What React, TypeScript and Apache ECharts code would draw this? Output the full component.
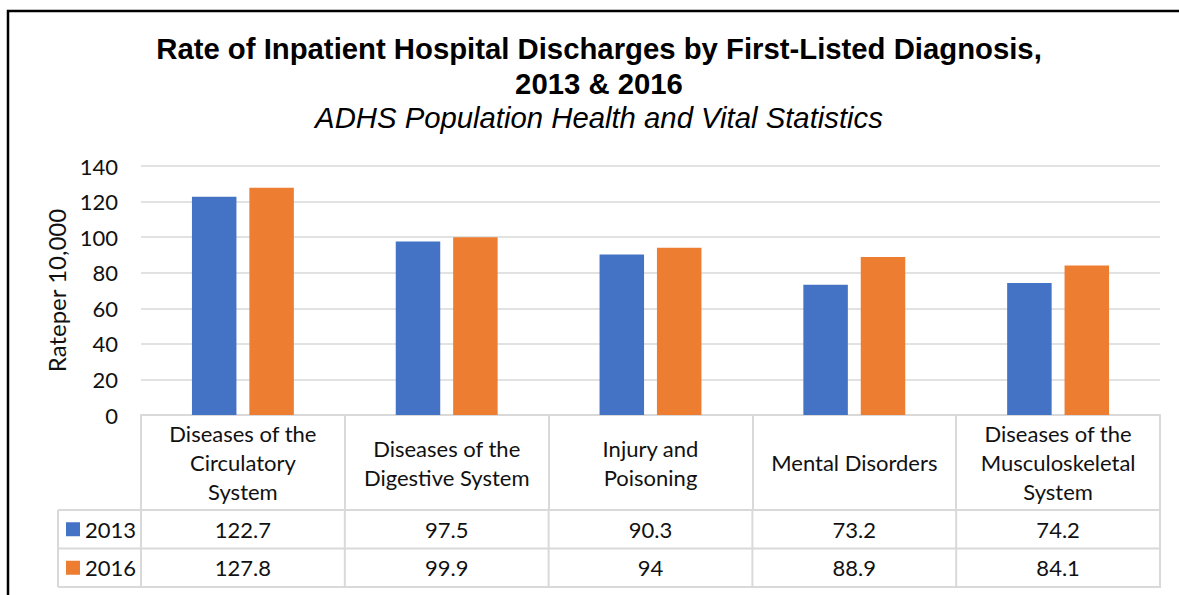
import React, { useEffect, useRef } from "react";
import * as echarts from "echarts";

const categories = [
  "Diseases of the\nCirculatory\nSystem",
  "Diseases of the\nDigestive System",
  "Injury and\nPoisoning",
  "Mental Disorders",
  "Diseases of the\nMusculoskeletal\nSystem",
];
const seriesNames = ["2013", "2016"];
const values2013 = [122.7, 97.5, 90.3, 73.2, 74.2];
const values2016 = [127.8, 99.9, 94, 88.9, 84.1];
const yMin = 0;
const yMax = 140;
const yStep = 20;
const titleLines = ["Rate of Inpatient Hospital Discharges by First-Listed Diagnosis,", "2013 & 2016"];
const subtitle = "ADHS Population Health and Vital Statistics";
const yAxisTitle = "Rateper 10,000";

const COLORS = ["#4472C4", "#ED7D31"];
const LINE = "#d9d9d9";
const BODY_FONT = "Lato, 'Noto Sans', sans-serif";
const TITLE_FONT = "'Liberation Sans', Arial, sans-serif";

const W = 1179;
const H = 595;
const GRID = { left: 141, right: 19, top: 166, bottom: 180 };
const AXIS_Y = H - GRID.bottom;
const HEADER_BOTTOM = 510;
const ROW1_BOTTOM = 548.5;
const ROW2_BOTTOM = 587;
const LEGEND_LEFT = 58;

export default function App() {
  const ref = useRef<HTMLDivElement>(null);

  useEffect(() => {
    if (!ref.current) return;
    const chart = echarts.init(ref.current, undefined, { renderer: "svg" });
    const seriesData = [values2013, values2016];

    chart.setOption({
      animation: false,
      backgroundColor: "#fff",
      grid: { ...GRID, containLabel: false },
      xAxis: {
        type: "category",
        data: categories,
        axisLine: { show: true, lineStyle: { color: LINE, width: 2 } },
        axisTick: { show: true, length: HEADER_BOTTOM - AXIS_Y, lineStyle: { color: LINE, width: 2 } },
        axisLabel: {
          interval: 0,
          margin: (HEADER_BOTTOM - AXIS_Y) / 2,
          verticalAlign: "middle",
          fontFamily: BODY_FONT,
          fontSize: 22,
          lineHeight: 29,
          color: "#111",
        },
        splitLine: { show: false },
      },
      yAxis: {
        type: "value",
        min: yMin,
        max: yMax,
        interval: yStep,
        name: yAxisTitle,
        nameLocation: "middle",
        nameRotate: 90,
        nameGap: 70,
        nameTextStyle: { fontFamily: BODY_FONT, fontSize: 24, color: "#111" },
        axisLine: { show: false },
        axisTick: { show: false },
        axisLabel: { fontFamily: BODY_FONT, fontSize: 22, color: "#111", margin: 23 },
        splitLine: { lineStyle: { color: LINE, width: 1.5 } },
      },
      series: seriesNames.map((name, i) => ({
        name,
        type: "bar",
        data: seriesData[i],
        itemStyle: { color: COLORS[i] },
        barGap: "29%",
        barCategoryGap: "50%",
      })),
    });

    const c0 = chart.convertToPixel({ xAxisIndex: 0 }, 0) as number;
    const c1 = chart.convertToPixel({ xAxisIndex: 0 }, 1) as number;
    const band = c1 - c0;
    const centers = categories.map((_, i) => chart.convertToPixel({ xAxisIndex: 0 }, i) as number);
    const bounds = [centers[0] - band / 2, ...centers.map((c) => c + band / 2)];
    const right = bounds[bounds.length - 1];

    const graphics: any[] = [];
    graphics.push({
      type: "rect",
      silent: true,
      shape: { x: 8, y: 11, width: 1400, height: 800 },
      style: { fill: "none", stroke: "#000", lineWidth: 2.5 },
    });
    const titleX = 599;
    graphics.push({
      type: "text",
      x: titleX,
      y: 48,
      style: { text: titleLines[0], align: "center", verticalAlign: "middle", fontFamily: TITLE_FONT, fontWeight: "bold", fontSize: 29.3, fill: "#000" },
    });
    graphics.push({
      type: "text",
      x: titleX,
      y: 83,
      style: { text: titleLines[1], align: "center", verticalAlign: "middle", fontFamily: TITLE_FONT, fontWeight: "bold", fontSize: 29.3, fill: "#000" },
    });
    graphics.push({
      type: "text",
      x: titleX,
      y: 117,
      style: { text: subtitle, align: "center", verticalAlign: "middle", fontFamily: TITLE_FONT, fontStyle: "italic", fontSize: 29.3, fill: "#000" },
    });

    [HEADER_BOTTOM, ROW1_BOTTOM, ROW2_BOTTOM].forEach((y) => {
      graphics.push({
        type: "line",
        silent: true,
        shape: { x1: LEGEND_LEFT, y1: y, x2: right + 1, y2: y },
        style: { stroke: LINE, lineWidth: 2 },
      });
    });
    [LEGEND_LEFT, ...bounds].forEach((x) => {
      graphics.push({
        type: "line",
        silent: true,
        shape: { x1: x, y1: HEADER_BOTTOM, x2: x, y2: ROW2_BOTTOM },
        style: { stroke: LINE, lineWidth: 2 },
      });
    });
    const rowTops = [HEADER_BOTTOM, ROW1_BOTTOM];
    const rowBottoms = [ROW1_BOTTOM, ROW2_BOTTOM];
    seriesNames.forEach((name, s) => {
      const cy = (rowTops[s] + rowBottoms[s]) / 2;
      graphics.push({
        type: "rect",
        silent: true,
        shape: { x: 66, y: cy - 7, width: 14, height: 14 },
        style: { fill: COLORS[s] },
      });
      graphics.push({
        type: "text",
        x: 85,
        y: cy,
        style: { text: name, align: "left", verticalAlign: "middle", fontFamily: BODY_FONT, fontSize: 22, fill: "#111" },
      });
      seriesData[s].forEach((v, i) => {
        graphics.push({
          type: "text",
          x: centers[i],
          y: cy,
          style: { text: String(v), align: "center", verticalAlign: "middle", fontFamily: BODY_FONT, fontSize: 22, fill: "#111" },
        });
      });
    });

    chart.setOption({ graphic: graphics });

    return () => chart.dispose();
  }, []);

  return (
    <div
      ref={ref}
      style={{ position: "fixed", left: 0, top: 0, width: W, height: H, background: "#fff" }}
    />
  );
}
